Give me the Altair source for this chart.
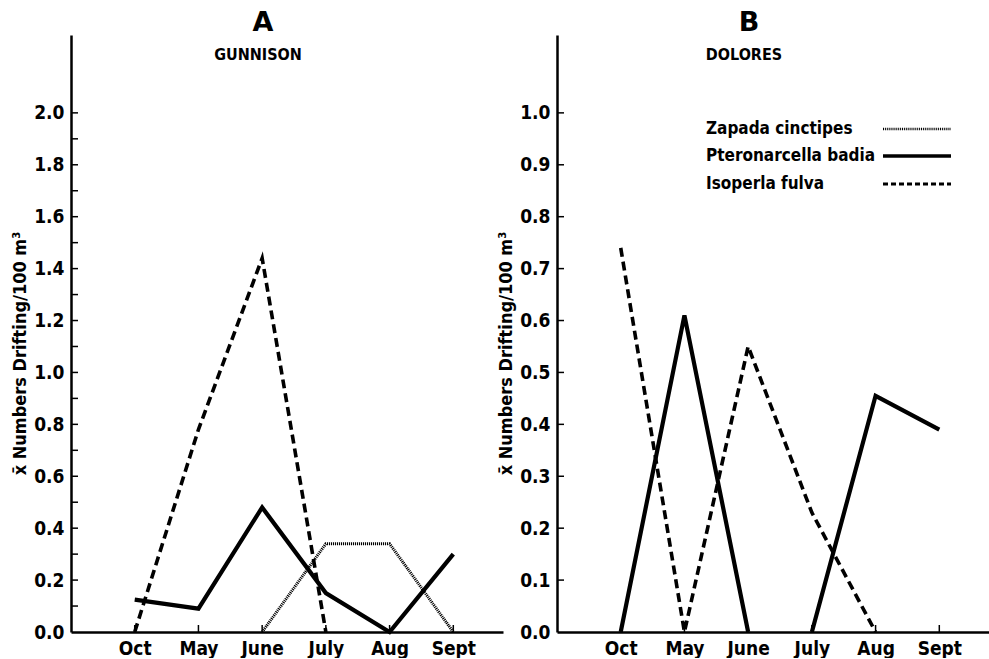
import altair as alt
import pandas as pd

# ---------------- data ----------------
months = ["Oct", "May", "June", "July", "Aug", "Sept"]
species = ["Zapada cinctipes", "Pteronarcella badia", "Isoperla fulva"]

gunnison_zapada = [None, None, 0.0, 0.34, 0.34, 0.0]
gunnison_pteronarcella = [0.125, 0.09, 0.48, 0.15, 0.0, 0.30]
gunnison_isoperla = [0.0, 0.78, 1.44, 0.0, None, None]

dolores_pteronarcella = [0.0, 0.61, 0.0, 0.0, 0.455, 0.39]
dolores_isoperla = [0.74, 0.0, 0.55, 0.23, 0.0, None]

gunnison_labels = [0.0, 0.2, 0.4, 0.6, 0.8, 1.0, 1.2, 1.4, 1.6, 1.8, 2.0]
gunnison_ticks = [0.1, 0.2, 0.3, 0.4, 0.5, 0.6, 0.7, 0.8, 0.9, 1.0,
                  1.1, 1.2, 1.3, 1.4, 1.5, 1.6, 1.7, 1.8, 1.9, 2.0]
dolores_labels = [0.0, 0.1, 0.2, 0.3, 0.4, 0.5, 0.6, 0.7, 0.8, 0.9, 1.0]
dolores_ticks = [0.1, 0.2, 0.3, 0.4, 0.5, 0.6, 0.7, 0.8, 0.9, 1.0]
month_ticks = [1, 2, 3, 4, 5, 6]

FONT = "DejaVu Sans Condensed, Liberation Sans Narrow, sans-serif"
W, H = 432, 597
STYLES = {
    "Zapada cinctipes": dict(strokeWidth=3, strokeDash=[1.1, 0.9], color="black"),
    "Pteronarcella badia": dict(strokeWidth=4.2, color="black"),
    "Isoperla fulva": dict(strokeWidth=3.6, strokeDash=[9, 5], color="black"),
}
LEG_STYLES = {
    "Zapada cinctipes": dict(strokeWidth=2.4, strokeDash=[1, 0.9], color="black"),
    "Pteronarcella badia": dict(strokeWidth=3.5, color="black"),
    "Isoperla fulva": dict(strokeWidth=3, strokeDash=[5, 3], color="black"),
}
label_expr = "[''," + ",".join("'%s'" % m for m in months) + "][datum.value]"


def long_df(series):
    """Long table; a run of zeros along the baseline starts a new segment
    (the original figure does not draw a line along the axis)."""
    rows = []
    for sp, vals in series.items():
        seg = 0
        prev = None
        for i, v in enumerate(vals):
            if v is None:
                prev = None
                continue
            if prev == 0 and v == 0:
                seg += 1
            rows.append({"species": sp, "seg": seg, "idx": i + 1,
                         "month": months[i], "value": v})
            prev = v
    return pd.DataFrame(rows)


def panel(series, ydom, ylabels, yticks, letter, name, legend=False):
    df = long_df(series)
    xscale = alt.Scale(domain=[0, 6.78], nice=False, zero=False)
    yscale = alt.Scale(domain=ydom, nice=False)
    x = alt.X("idx:Q", scale=xscale, axis=alt.Axis(
        values=month_ticks, labelExpr=label_expr, ticks=False, grid=False,
        title=None, domainColor="black", domainWidth=2.5, labelFont=FONT,
        labelFontSize=19, labelFontWeight="bold", labelColor="black",
        labelPadding=7, labelFlush=False))
    y = alt.Y("value:Q", scale=yscale, axis=alt.Axis(
        values=ylabels, format=".1f", ticks=False, grid=False,
        title="x̄ Numbers Drifting/100 m³", titleFont=FONT, titleFontSize=18,
        titleFontWeight="bold", titleColor="black", titleAngle=270,
        titleX=-42, titleY=318, titleAlign="center", titleBaseline="bottom",
        domainColor="black", domainWidth=2.5, labelFont=FONT, labelFontSize=19,
        labelFontWeight="bold", labelColor="black", labelPadding=7,
        labelFlush=False))
    layers = []
    for sp in species:
        if sp not in series:
            continue
        layers.append(alt.Chart(df).transform_filter(
            alt.datum.species == sp).mark_line(**STYLES[sp]).encode(
            x=x, y=y, detail="seg:N", order="idx:Q"))
    # inward ticks (same fields / axes as the lines so the axes merge)
    layers.append(alt.Chart(pd.DataFrame({"value": yticks})).mark_rule(
        color="black", strokeWidth=1.5).encode(y=y, x=alt.value(0), x2=alt.value(7)))
    layers.append(alt.Chart(pd.DataFrame({"idx": month_ticks})).mark_rule(
        color="black", strokeWidth=1.5).encode(x=x, y=alt.value(H), y2=alt.value(H - 7)))
    # panel titles
    layers.append(alt.Chart(pd.DataFrame({"t": [letter]})).mark_text(
        font="DejaVu Sans", fontSize=27, fontWeight="bold", color="black",
        baseline="middle").encode(text="t:N", x=alt.value(192), y=alt.value(-12)))
    layers.append(alt.Chart(pd.DataFrame({"t": [name]})).mark_text(
        font=FONT, fontSize=16, fontWeight="bold", color="black",
        baseline="middle").encode(text="t:N", x=alt.value(187), y=alt.value(20)))
    if legend:
        ys = [94, 121, 149]
        for sp, yy in zip(species, ys):
            layers.append(alt.Chart(pd.DataFrame({"t": [sp]})).mark_text(
                font=FONT, fontSize=17, fontWeight="bold", color="black",
                align="left", baseline="middle").encode(
                text="t:N", x=alt.value(149), y=alt.value(yy)))
            layers.append(alt.Chart(pd.DataFrame({"t": [sp]})).mark_rule(
                **LEG_STYLES[sp]).encode(
                x=alt.value(326), x2=alt.value(394), y=alt.value(yy)))
    return alt.layer(*layers).properties(width=W, height=H)


left = panel({"Zapada cinctipes": gunnison_zapada,
              "Pteronarcella badia": gunnison_pteronarcella,
              "Isoperla fulva": gunnison_isoperla},
             [0, 2.30], gunnison_labels, gunnison_ticks, "A", "GUNNISON")
right = panel({"Pteronarcella badia": dolores_pteronarcella,
               "Isoperla fulva": dolores_isoperla},
              [0, 1.15], dolores_labels, dolores_ticks, "B", "DOLORES", legend=True)

chart = alt.hconcat(left, right, spacing=54, bounds="flush").properties(
    padding={"left": 11, "top": 9, "right": 0, "bottom": 0},
    background="white"
).configure_view(stroke=None)

chart.save("out.html", embed_options={"renderer": "svg", "actions": False})
